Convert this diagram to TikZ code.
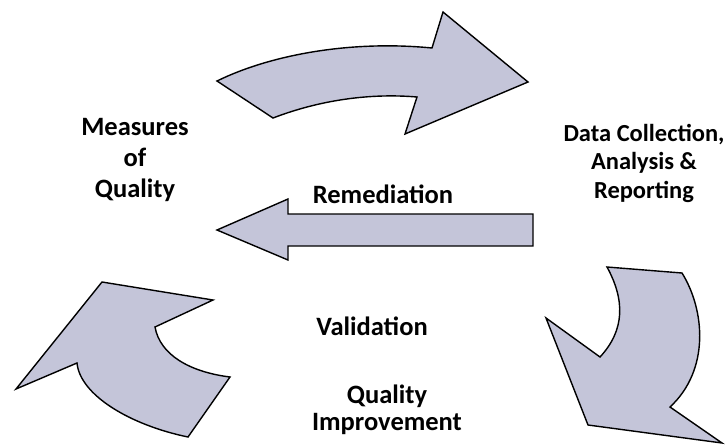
\documentclass[tikz,border=0pt]{standalone}
\usepackage{fontspec}
\setmainfont{Carlito}
\definecolor{arrowfill}{RGB}{196,197,217}
\begin{document}
\begin{tikzpicture}[x=1pt,y=-1pt,
  blockarrow/.style={draw=black,line width=1.4pt,fill=arrowfill,line join=miter},
  label/.style={font=\bfseries\fontsize{26.5}{31}\selectfont,align=center,inner sep=0pt}]
\useasboundingbox (0,0) rectangle (727,444);
% top curved arrow
\path[blockarrow] (217,81) -- (273,118)
  .. controls (320,100) and (370,93) .. (417,97)
  -- (405,134) -- (528,82) -- (443,12) -- (432,48)
  .. controls (350,40) and (270,55) .. (217,81) -- cycle;
% remediation arrow
\path[blockarrow] (217,230) -- (288,199) -- (288,214) -- (533,214)
  -- (533,246) -- (288,246) -- (288,260) -- cycle;
% lower left arrow
\path[blockarrow] (102,282) -- (213,300) -- (155,327)
  .. controls (160,355) and (190,372) .. (230,377)
  -- (188,437)
  .. controls (130,425) and (80,395) .. (77,363)
  -- (16,389) -- cycle;
% lower right arrow
\path[blockarrow] (607,267) -- (682,273)
  .. controls (705,310) and (710,370) .. (670,407)
  -- (722,443) -- (588,425) -- (546,318) -- (600,357)
  .. controls (625,330) and (625,300) .. (607,267) -- cycle;
% labels
\node[label] (measures) at (135,160) {Measures\\of\\Quality};
\node[label,font=\bfseries\fontsize{24.5}{28.5}\selectfont] (data) at (644,163) {Data Collection,\\Analysis \&\\Reporting};
\node[label] (remed) at (383,194) {Remediation};
\node[label] (valid) at (372,326) {Validation};
\node[label,font=\bfseries\fontsize{26.5}{27}\selectfont] (qi) at (387,410) {Quality\\Improvement};
\end{tikzpicture}
\end{document}
